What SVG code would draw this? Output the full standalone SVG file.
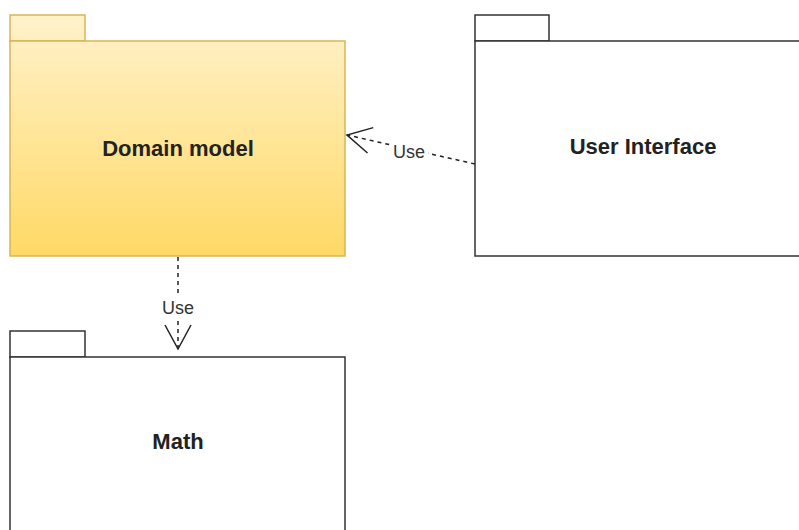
<svg xmlns="http://www.w3.org/2000/svg" width="799" height="530" viewBox="0 0 799 530">
<style>
.pkg{fill:#ffffff;stroke:#333333;stroke-width:1.5}
.dom{fill:url(#yel);stroke:#d6b656;stroke-width:1.5}
.lbl{font-family:"Liberation Sans",Arial,sans-serif;font-weight:bold;font-size:22px;fill:#222222;text-anchor:middle}
.elbl{font-family:"Liberation Sans",Arial,sans-serif;font-size:18px;fill:#333333;text-anchor:middle}
.edge{fill:none;stroke:#222222;stroke-width:1.5;stroke-dasharray:4 4}
</style>
<defs>
<linearGradient id="yel" gradientUnits="userSpaceOnUse" x1="0" y1="15" x2="0" y2="256">
<stop offset="0" stop-color="#fff2cc"/>
<stop offset="1" stop-color="#ffd966"/>
</linearGradient>
<marker id="open" markerUnits="userSpaceOnUse" markerWidth="28" markerHeight="30" viewBox="0 0 28 30" refX="25" refY="15" orient="auto" overflow="visible">
<path d="M1,2 L25,15 L1,28" fill="none" stroke="#222222" stroke-width="1.5"/>
</marker>
</defs>
<rect width="799" height="530" fill="#ffffff"/>
<g id="domain-model">
<rect class="dom" x="10" y="15" width="75" height="26"/>
<rect class="dom" x="10" y="41" width="335" height="215"/>
<text class="lbl" x="178" y="156">Domain model</text>
</g>
<g id="user-interface">
<rect class="pkg" x="475" y="15" width="74" height="26"/>
<rect class="pkg" x="475" y="41" width="340" height="215"/>
<text class="lbl" x="643" y="154">User Interface</text>
</g>
<g id="math">
<rect class="pkg" x="10" y="331" width="75" height="26"/>
<rect class="pkg" x="10" y="357" width="335" height="190"/>
<text class="lbl" x="178" y="449">Math</text>
</g>
<g id="connectors">
<path class="edge" d="M475,164 L347,135" marker-end="url(#open)"/>
<rect x="390" y="140" width="38" height="22" fill="#ffffff"/>
<text class="elbl" x="409" y="158">Use</text>
<path class="edge" d="M178,257 L178,349" marker-end="url(#open)"/>
<rect x="159" y="296" width="38" height="22" fill="#ffffff"/>
<text class="elbl" x="178" y="314">Use</text>
</g>
</svg>
